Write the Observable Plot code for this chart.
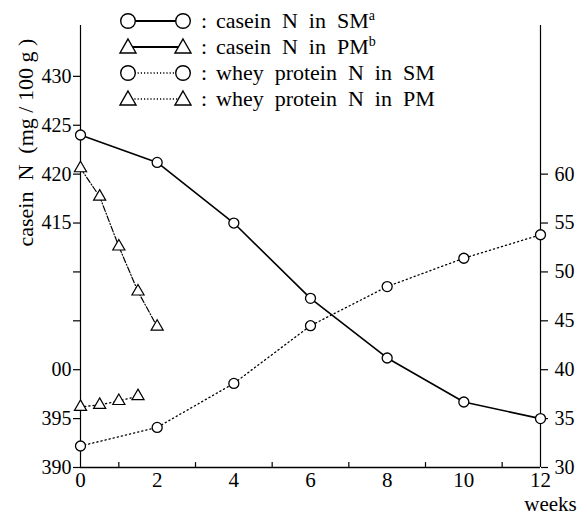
<!DOCTYPE html>
<html><head><meta charset="utf-8">
<script src="https://cdn.jsdelivr.net/npm/d3@7"></script>
<script src="https://cdn.jsdelivr.net/npm/@observablehq/plot@0.6"></script>
<style>
body{margin:0;background:#fff}
#wrap{position:relative;width:587px;height:516px;font-family:'Liberation Serif'}
#legend{position:absolute;left:0;top:0;pointer-events:none}
#legend text{white-space:pre}
</style></head><body><div id="wrap"></div>
<script>
const weeks = [0, 2, 4, 6, 8, 10, 12];
const caseinSM = [424.0, 421.2, 415.0, 407.3, 401.2, 396.7, 395.0];
const wheySM = [32.2, 34.1, 38.6, 44.5, 48.5, 51.4, 53.8];
const pmWeeks = [0, 0.5, 1, 1.5, 2];
const caseinPM = [420.6, 417.7, 412.6, 408.0, 404.4];
const pmWheyWeeks = [0, 0.5, 1, 1.5];
const wheyPM = [36.2, 36.4, 36.8, 37.3];
const leftTicks = [390, 395, 400, 405, 410, 415, 420, 425, 430];
const leftTickLabels = ["390", "395", "00", "", "", "415", "420", "425", "430"];
const rightTicks = [30, 35, 40, 45, 50, 55, 60];
const xTicks = [0, 2, 4, 6, 8, 10, 12];
const xMinorTicks = [1, 3, 5, 7, 9, 11];
const legendLabels = ["casein N in SM", "casein N in PM", "whey protein N in SM", "whey protein N in PM"];
const legendSup = ["a", "b", "", ""];
const yLabel = "casein N (mg / 100 g )";
const xUnit = "weeks";

// right axis (whey) aligned with left axis: 30 <-> 390
const OFFSET = leftTicks[0] - rightTicks[0];
const yMin = 390, yMax = 435.2;

const sm = weeks.map((w, i) => ({w, c: caseinSM[i], wh: wheySM[i] + OFFSET}));
const pmC = pmWeeks.map((w, i) => ({w, c: caseinPM[i]}));
const pmW = pmWheyWeeks.map((w, i) => ({w, wh: wheyPM[i] + OFFSET}));

const FONT = "Liberation Serif";
const wide = s => s.replace(/ /g, "  "); // wider word gaps, like the typeset original
const dotted = "1.2,3";
const chart = Plot.plot({
  width: 587, height: 516,
  marginLeft: 80, marginRight: 47, marginTop: 25, marginBottom: 49,
  style: {fontFamily: FONT, fontSize: "20px", color: "black", background: "white"},
  x: {domain: [0, 12]},
  y: {domain: [yMin, yMax]},
  marks: [
    Plot.ruleY([yMin], {strokeWidth: 1.6}),
    Plot.ruleX([0], {strokeWidth: 1.2}),
    Plot.ruleX([12], {strokeWidth: 1.2}),
    Plot.ruleX(xMinorTicks, {y1: yMin, y2: yMin + 0.5, strokeWidth: 1.2}),
    Plot.axisY(leftTicks, {anchor: "left", tickSize: 7, tickPadding: 2, strokeWidth: 1.2, fontSize: 20,
      tickFormat: d => leftTickLabels[leftTicks.indexOf(d)], label: null}),
    Plot.axisY(rightTicks.map(t => t + OFFSET), {anchor: "right", tickSize: 7, tickPadding: 7, strokeWidth: 1.2, fontSize: 20,
      tickFormat: d => String(d - OFFSET), label: null}),
    Plot.axisX(xTicks, {anchor: "bottom", tickSize: 0, tickPadding: 5, label: null, fontSize: 21}),
    Plot.text([yLabel], {text: d => d.replace("casein N (", "casein  N  ("), frameAnchor: "left", rotate: -90, dx: -55, fontSize: 22}),
    Plot.text([xUnit], {frameAnchor: "bottom-right", dx: 10, dy: 37, textAnchor: "middle", lineAnchor: "middle", fontSize: 21}),
    // whey SM (dotted)
    Plot.line(sm, {x: "w", y: "wh", strokeWidth: 1.3, strokeDasharray: dotted}),
    Plot.dot(sm, {x: "w", y: "wh", r: 5, fill: "white", stroke: "black", strokeWidth: 1.3}),
    // whey PM (dotted)
    Plot.line(pmW, {x: "w", y: "wh", strokeWidth: 1.3, strokeDasharray: dotted}),
    Plot.dot(pmW, {x: "w", y: "wh", r: 4.5, symbol: "triangle", fill: "white", stroke: "black", strokeWidth: 1.2}),
    // casein PM
    Plot.line(pmC, {x: "w", y: "c", strokeWidth: 1.2, strokeDasharray: "6,2,1,2"}),
    Plot.dot(pmC, {x: "w", y: "c", r: 4.5, symbol: "triangle", fill: "white", stroke: "black", strokeWidth: 1.2}),
    // casein SM
    Plot.line(sm, {x: "w", y: "c", strokeWidth: 1.6}),
    Plot.dot(sm, {x: "w", y: "c", r: 5, fill: "white", stroke: "black", strokeWidth: 1.3})
  ]
});
const wrap = document.getElementById("wrap");
wrap.appendChild(chart);

// legend overlay
const lg = d3.select(wrap).append("svg").attr("id", "legend").attr("width", 587).attr("height", 112);
const rowY = i => 21 + i * 26;
legendLabels.forEach((lab, i) => {
  const g = lg.append("g").attr("transform", `translate(0,${rowY(i)})`);
  g.append("line").attr("x1", 128).attr("x2", 183).attr("y1", 0).attr("y2", 0)
    .attr("stroke", "black").attr("stroke-width", i < 2 ? 2 : 1.3)
    .attr("stroke-dasharray", i < 2 ? null : "1.2,2");
  [128, 183].forEach(cx => {
    if (i % 2 === 0) {
      g.append("circle").attr("cx", cx).attr("cy", 0).attr("r", 7.3)
        .attr("fill", "white").attr("stroke", "black").attr("stroke-width", 1.4);
    } else {
      g.append("path").attr("d", `M${cx},-8L${cx + 8},6L${cx - 8},6Z`)
        .attr("fill", "white").attr("stroke", "black").attr("stroke-width", 1.4);
    }
  });
  g.append("text").attr("x", 201).attr("y", 7).attr("font-family", FONT).attr("font-size", 22).text(":");
  const t = g.append("text").attr("x", 216).attr("y", 7)
    .attr("font-family", FONT).attr("font-size", 22);
  t.append("tspan").text(wide(lab));
  if (legendSup[i]) t.append("tspan").attr("dy", -8).attr("font-size", 14).text(legendSup[i]);
});
</script></body></html>
